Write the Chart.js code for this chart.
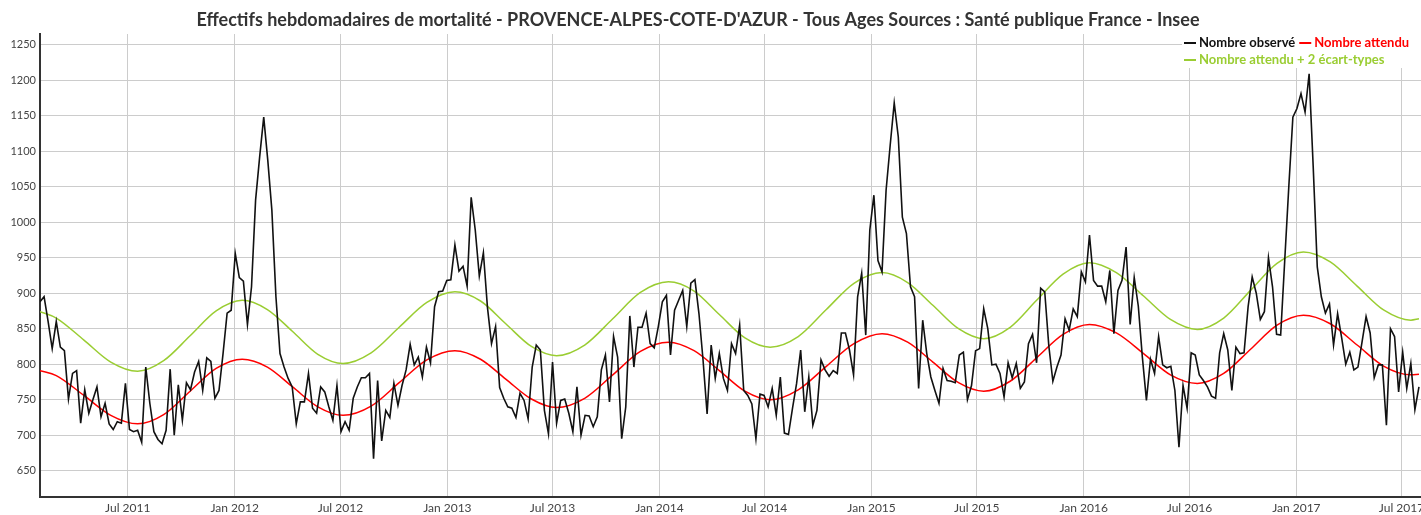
<!DOCTYPE html>
<html lang="fr">
<head>
<meta charset="utf-8">
<title>Effectifs hebdomadaires de mortalité - PACA</title>
<script src="https://cdn.jsdelivr.net/npm/chart.js@4.4.1/dist/chart.umd.min.js"></script>
<style>
  html, body { margin: 0; padding: 0; background: #fff; }
  canvas { display: block; }
</style>
</head>
<body>
<canvas id="chart" width="1421" height="515"></canvas>
<script>
const titleText = "Effectifs hebdomadaires de mortalité - PROVENCE-ALPES-COTE-D'AZUR - Tous Ages Sources : Santé publique France - Insee";

// week 0 = first plotted week (end of January 2011)
const startDate = Date.UTC(2011, 0, 31);

const tickLabels = ["Jul 2011", "Jan 2012", "Jul 2012", "Jan 2013", "Jul 2013", "Jan 2014", "Jul 2014",
  "Jan 2015", "Jul 2015", "Jan 2016", "Jul 2016", "Jan 2017", "Jul 2017"];
const tickDates = ["2011-07-01", "2012-01-01", "2012-07-01", "2013-01-01", "2013-07-01", "2014-01-01", "2014-07-01",
  "2015-01-01", "2015-07-01", "2016-01-01", "2016-07-01", "2017-01-01", "2017-07-01"];
const yTicks = [650, 700, 750, 800, 850, 900, 950, 1000, 1050, 1100, 1150, 1200, 1250];

// Nombre observé, one value per week
const observed = [
  888, 895, 860, 822, 860, 824, 819, 751, 787, 791, 717, 764, 731, 750, 768, 726, 745, 716, 708, 719,
  717, 773, 708, 705, 707, 690, 796, 745, 705, 694, 688, 707, 793, 700, 771, 721, 774, 764, 789, 804,
  763, 809, 804, 752, 763, 815, 872, 876, 956, 922, 917, 856, 909, 1031, 1092, 1148, 1087, 1017, 895, 815,
  796, 780, 768, 716, 747, 747, 787, 738, 731, 768, 761, 740, 721, 770, 705, 719, 707, 752, 768, 781,
  781, 787, 667, 777, 692, 735, 725, 773, 742, 770, 792, 828, 799, 810, 782, 824, 802, 881, 902, 903,
  918, 919, 968, 931, 938, 910, 1035, 989, 924, 957, 880, 829, 853, 767, 752, 740, 738, 725, 759, 749,
  723, 796, 827, 820, 735, 702, 803, 717, 749, 751, 731, 705, 768, 700, 728, 727, 712, 726, 792, 813,
  747, 839, 810, 695, 740, 868, 796, 852, 852, 872, 829, 823, 853, 888, 897, 813, 876, 890, 904, 853,
  914, 919, 871, 806, 730, 827, 780, 815, 780, 763, 829, 815, 855, 763, 756, 744, 695, 758, 756, 740,
  766, 728, 782, 703, 701, 738, 773, 820, 733, 782, 714, 735, 806, 792, 783, 791, 787, 844, 844, 820,
  785, 895, 928, 841, 989, 1038, 946, 930, 1045, 1108, 1168, 1120, 1007, 984, 909, 895, 766, 862, 815, 782,
  763, 745, 794, 777, 776, 774, 813, 817, 750, 770, 819, 822, 878, 850, 799, 800, 787, 754, 802, 781,
  801, 766, 775, 829, 842, 802, 907, 902, 826, 776, 796, 813, 864, 848, 878, 867, 930, 916, 982, 918,
  910, 910, 888, 932, 843, 904, 918, 965, 856, 922, 882, 810, 749, 807, 787, 839, 799, 795, 797, 763,
  683, 770, 738, 816, 813, 785, 777, 768, 755, 752, 816, 843, 820, 763, 824, 815, 816, 881, 923, 900,
  863, 874, 950, 909, 842, 841, 946, 1050, 1148, 1160, 1181, 1155, 1209, 1078, 937, 895, 872, 885, 827, 871,
  837, 800, 817, 792, 796, 831, 867, 844, 781, 799, 799, 714, 850, 839, 761, 817, 766, 801, 736, 768
];

// Nombre attendu / seuil, read at peaks, troughs and in between
const expectedWeeks = [
  0, 4, 10.8, 17.4, 24, 30.4, 36.9, 43.3, 49.7, 55.9, 62.1, 68.3, 74.5, 81.4, 88.3, 95.1,
  102, 108.3, 114.5, 120.8, 127, 133.9, 140.8, 147.6, 154.5, 160.8, 167, 173.3, 179.5, 186.4, 193.3, 200.1,
  207, 213.3, 219.5, 225.8, 232, 238.5, 245, 251.5, 258, 264.6, 271.3, 277.9, 284.5, 291, 297.6, 304.1,
  310.6, 317.2, 323.8, 330.4, 337, 339
];
const expected = [
  791, 784, 756, 728, 716, 729, 762, 794, 807, 796, 768, 740, 728, 741, 774, 806,
  819, 807, 779, 751, 739, 752, 785, 818, 831, 819, 791, 762, 750, 764, 797, 829,
  843, 831, 803, 774, 762, 776, 809, 842, 856, 844, 815, 785, 773, 787, 821, 855,
  869, 857, 827, 797, 785, 786
];
const threshold = [
  874, 865, 834, 803, 790, 805, 840, 875, 890, 877, 846, 814, 801, 816, 852, 887,
  902, 889, 857, 825, 812, 827, 864, 901, 916, 903, 870, 837, 824, 839, 877, 914,
  929, 915, 883, 850, 836, 852, 890, 927, 943, 929, 896, 863, 849, 865, 904, 942,
  958, 944, 910, 876, 862, 864
];

const seriesNames = ["Nombre observé", "Nombre attendu", "Nombre attendu + 2 écart-types"];
const seriesColors = ["#111111", "#ff0000", "#9acd32"];

const tickWeeks = tickDates.map(d => (Date.parse(d) - startDate) / (7 * 864e5));
const fontFamily = "Lato, 'Open Sans', sans-serif";

// title drawn by hand so it sits where the original one does
const titlePlugin = {
  id: "titlePlugin",
  afterDraw(chart) {
    const ctx = chart.ctx;
    ctx.save();
    ctx.font = "bold 18px " + fontFamily;
    ctx.fillStyle = "#333";
    ctx.textAlign = "center";
    ctx.textBaseline = "middle";
    ctx.fillText(titleText, 698, 20);
    ctx.restore();
  },
};

// legend inside the plot, top right, on a white box
const legendPlugin = {
  id: "legendPlugin",
  afterDraw(chart) {
    const { ctx, chartArea } = chart;
    const left = 1184;
    ctx.save();
    ctx.fillStyle = "#fff";
    ctx.fillRect(left - 2, chartArea.top, chartArea.right - left + 2, 34);
    ctx.font = "bold 13px " + fontFamily;
    ctx.textBaseline = "middle";
    const rows = [[0, 1], [2]];
    rows.forEach((row, r) => {
      let x = left;
      const y = chartArea.top + 9 + r * 17;
      row.forEach(k => {
        ctx.strokeStyle = seriesColors[k];
        ctx.lineWidth = 2;
        ctx.beginPath();
        ctx.moveTo(x, y);
        ctx.lineTo(x + 12, y);
        ctx.stroke();
        ctx.fillStyle = seriesColors[k];
        ctx.fillText(seriesNames[k], x + 15, y);
        x += 15 + ctx.measureText(seriesNames[k]).width + 4;
      });
    });
    ctx.restore();
  },
};

const ctx = document.getElementById("chart").getContext("2d");
new Chart(ctx, {
  type: "line",
  data: {
    datasets: [
      {
        label: seriesNames[0],
        data: observed.map((v, i) => ({ x: i, y: v })),
        borderColor: seriesColors[0],
        borderWidth: 1.6,
        pointRadius: 0,
        tension: 0,
        order: 0,
      },
      {
        label: seriesNames[1],
        data: expectedWeeks.map((w, i) => ({ x: w, y: expected[i] })),
        borderColor: seriesColors[1],
        borderWidth: 1.5,
        pointRadius: 0,
        cubicInterpolationMode: "monotone",
        order: 1,
      },
      {
        label: seriesNames[2],
        data: expectedWeeks.map((w, i) => ({ x: w, y: threshold[i] })),
        borderColor: seriesColors[2],
        borderWidth: 1.5,
        pointRadius: 0,
        cubicInterpolationMode: "monotone",
        order: 2,
      },
    ],
  },
  options: {
    responsive: false,
    animation: false,
    devicePixelRatio: 1,
    layout: { padding: { top: 34, left: 0, right: 0, bottom: 0 } },
    plugins: {
      legend: { display: false },
      title: { display: false },
      tooltip: { enabled: false },
    },
    scales: {
      x: {
        type: "linear",
        min: 0,
        max: 339.5,
        afterBuildTicks: scale => {
          scale.ticks = tickWeeks.map(v => ({ value: v }));
        },
        afterFit: scale => {
          scale.height = 18;
          scale.paddingLeft = 0;
          scale.paddingRight = 0;
        },
        ticks: {
          autoSkip: false,
          maxRotation: 0,
          padding: 4,
          color: "#444",
          font: { family: fontFamily, size: 12 },
          callback: (value, index) => tickLabels[index],
        },
        grid: { color: "#cccccc", drawTicks: false },
        border: { color: "#333", width: 2 },
      },
      y: {
        min: 613,
        max: 1265,
        afterBuildTicks: scale => {
          scale.ticks = yTicks.map(v => ({ value: v }));
        },
        afterFit: scale => {
          scale.width = 40;
        },
        ticks: {
          padding: 4,
          color: "#444",
          font: { family: fontFamily, size: 11 },
          callback: value => String(value),
        },
        grid: { color: "#cccccc", drawTicks: false },
        border: { color: "#333", width: 2 },
      },
    },
  },
  plugins: [titlePlugin, legendPlugin],
});
</script>
</body>
</html>
